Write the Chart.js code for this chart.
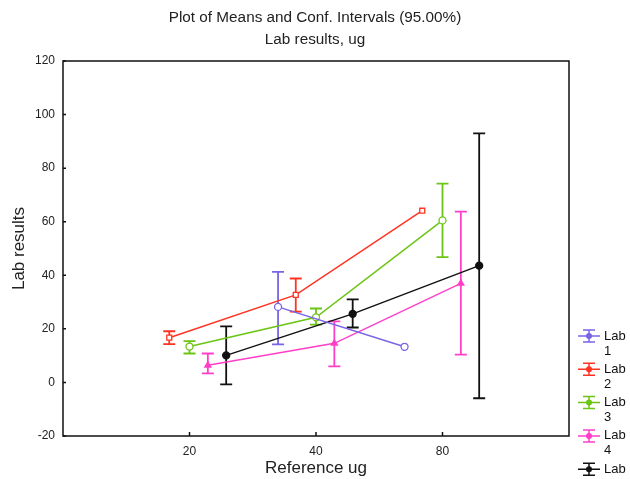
<!DOCTYPE html>
<html>
<head>
<meta charset="utf-8">
<script src="https://cdn.jsdelivr.net/npm/chart.js@4/dist/chart.umd.min.js"></script>
<style>
  html, body { margin: 0; padding: 0; background: #fff; }
  #myChart { display: block; }
</style>
</head>
<body>
<canvas id="myChart" width="630" height="479"></canvas>
<script>
'use strict';

// reference amounts (x categories)
const categories = ['20', '40', '80'];
const yTicks = [-20, 0, 20, 40, 60, 80, 100, 120];
const labNames = ['Lab 1', 'Lab 2', 'Lab 3', 'Lab 4', 'Lab 5'];

// means and 95% conf. limits per lab, one entry per category (null = no value)
const lab1Mean = [null, 28.2, 13.3];
const lab1Low  = [null, 14.2, null];
const lab1High = [null, 41.3, null];

const lab2Mean = [16.7, 32.7, 64.1];
const lab2Low  = [14.3, 26.4, null];
const lab2High = [19.1, 38.8, null];

const lab3Mean = [13.4, 24.3, 60.5];
const lab3Low  = [10.8, 21.6, 46.8];
const lab3High = [15.4, 27.6, 74.2];

const lab4Mean = [6.4, 14.6, 37.0];
const lab4Low  = [3.4, 6.0, 10.4];
const lab4High = [10.8, 22.8, 63.8];

const lab5Mean = [10.1, 25.6, 43.6];
const lab5Low  = [-0.7, 20.5, -5.9];
const lab5High = [20.9, 31.0, 93.0];

// horizontal shift of each lab inside a category, so the bars don't overlap
const labShift = [-0.3, -0.16, 0, 0.145, 0.29];
const labColors = ['#7b63e6', '#ff3322', '#6cc414', '#ff3fc8', '#111111'];
const labPoints = ['circle', 'rect', 'circle', 'triangle', 'circle'];
const labFill = ['#ffffff', '#ffffff', '#ffffff', '#ff3fc8', '#111111'];

const labs = [
  {mean: lab1Mean, low: lab1Low, high: lab1High},
  {mean: lab2Mean, low: lab2Low, high: lab2High},
  {mean: lab3Mean, low: lab3Low, high: lab3High},
  {mean: lab4Mean, low: lab4Low, high: lab4High},
  {mean: lab5Mean, low: lab5Low, high: lab5High}
];

const FONT = "'Liberation Sans', Arial, sans-serif";
Chart.defaults.font.family = FONT;
Chart.defaults.color = '#222';

let datasets = labs.map(function(lab, i) {
  let pts = [];
  lab.mean.forEach(function(m, j) {
    if (m != null) pts.push({x: j + 1 + labShift[i], y: m});
  });
  return {
    label: labNames[i],
    data: pts,
    borderColor: labColors[i],
    backgroundColor: labFill[i],
    pointBackgroundColor: labFill[i],
    pointBorderColor: labColors[i],
    pointStyle: labPoints[i],
    pointRadius: 3.5,
    pointBorderWidth: 1.3,
    borderWidth: 1.5,
    tension: 0,
    fill: false
  };
});

// error bars, drawn through the chart scales
const errorBars = {
  id: 'errorBars',
  beforeDatasetsDraw(chart) {
    const ctx = chart.ctx;
    const xs = chart.scales.x, ys = chart.scales.y;
    ctx.save();
    labs.forEach(function(lab, i) {
      ctx.strokeStyle = labColors[i];
      ctx.lineWidth = 1.8;
      lab.mean.forEach(function(m, j) {
        if (m == null || lab.low[j] == null) return;
        const px = xs.getPixelForValue(j + 1 + labShift[i]);
        const y1 = ys.getPixelForValue(lab.low[j]);
        const y2 = ys.getPixelForValue(lab.high[j]);
        ctx.beginPath();
        ctx.moveTo(px, y1); ctx.lineTo(px, y2);
        ctx.moveTo(px - 6, y1); ctx.lineTo(px + 6, y1);
        ctx.moveTo(px - 6, y2); ctx.lineTo(px + 6, y2);
        ctx.stroke();
      });
    });
    ctx.restore();
  }
};

// titles, frame, inner ticks and the lab legend
const decorations = {
  id: 'decorations',
  afterDraw(chart) {
    const ctx = chart.ctx;
    const a = chart.chartArea;
    const xs = chart.scales.x, ys = chart.scales.y;
    ctx.save();
    ctx.fillStyle = '#222';
    ctx.textAlign = 'center';
    ctx.textBaseline = 'middle';
    ctx.font = '15.3px ' + FONT;
    ctx.fillText('Plot of Means and Conf. Intervals (95.00%)', 315, 18);
    ctx.fillText('Lab results, ug', 315, 40);

    ctx.strokeStyle = '#111';
    ctx.lineWidth = 1.5;
    ctx.strokeRect(a.left, a.top, a.right - a.left, a.bottom - a.top);
    ctx.beginPath();
    [1, 2, 3].forEach(function(v) {
      const px = xs.getPixelForValue(v);
      ctx.moveTo(px, a.bottom); ctx.lineTo(px, a.bottom - 4);
    });
    yTicks.forEach(function(v) {
      const py = ys.getPixelForValue(v);
      ctx.moveTo(a.left, py); ctx.lineTo(a.left + 3, py);
    });
    ctx.stroke();

    // legend
    ctx.textAlign = 'left';
    ctx.font = '13px ' + FONT;
    labNames.forEach(function(name, i) {
      const cy = 336 + i * 33.3;
      const cx = 589;
      ctx.strokeStyle = labColors[i];
      ctx.lineWidth = 1.5;
      ctx.beginPath();
      ctx.moveTo(cx - 6, cy - 6); ctx.lineTo(cx + 6, cy - 6);
      ctx.moveTo(cx - 6, cy + 6); ctx.lineTo(cx + 6, cy + 6);
      ctx.moveTo(cx, cy - 6); ctx.lineTo(cx, cy + 6);
      ctx.moveTo(cx - 11, cy); ctx.lineTo(cx + 11, cy);
      ctx.stroke();
      ctx.fillStyle = labFill[i] === '#ffffff' ? labColors[i] : labFill[i];
      ctx.beginPath();
      ctx.arc(cx, cy, 3, 0, Math.PI * 2);
      ctx.fill();
      ctx.fillStyle = '#111';
      const parts = name.split(' ');
      ctx.fillText(parts[0], 604, cy);
      ctx.fillText(parts[1], 604, cy + 15);
    });
    ctx.restore();
  }
};

const chart = new Chart(document.getElementById('myChart'), {
  type: 'line',
  data: {datasets: datasets},
  options: {
    responsive: false,
    animation: false,
    layout: {padding: {top: 61, right: 61, left: 0, bottom: 0}},
    plugins: {
      legend: {display: false},
      tooltip: {enabled: false}
    },
    scales: {
      x: {
        type: 'linear',
        min: 0,
        max: 4,
        afterBuildTicks: function(s) {
          s.ticks = [1, 2, 3].map(function(v) { return {value: v}; });
        },
        afterFit: function(s) { s.height = 43; },
        grid: {display: false, drawTicks: false},
        border: {display: false},
        ticks: {
          padding: 8,
          font: {size: 12},
          color: '#222',
          callback: function(v) { return categories[v - 1]; }
        },
        title: {
          display: true,
          text: 'Reference ug',
          font: {size: 17},
          color: '#222',
          padding: {top: 0, bottom: 0}
        }
      },
      y: {
        min: -20,
        max: 120,
        afterBuildTicks: function(s) {
          s.ticks = yTicks.map(function(v) { return {value: v}; });
        },
        afterFit: function(s) { s.width = 63; },
        grid: {display: false, drawTicks: false},
        border: {display: false},
        ticks: {padding: 8, font: {size: 12}, color: '#222'},
        title: {
          display: true,
          text: 'Lab results',
          font: {size: 17},
          color: '#222',
          padding: {top: 9, bottom: 0}
        }
      }
    }
  },
  plugins: [errorBars, decorations]
});
</script>
</body>
</html>
